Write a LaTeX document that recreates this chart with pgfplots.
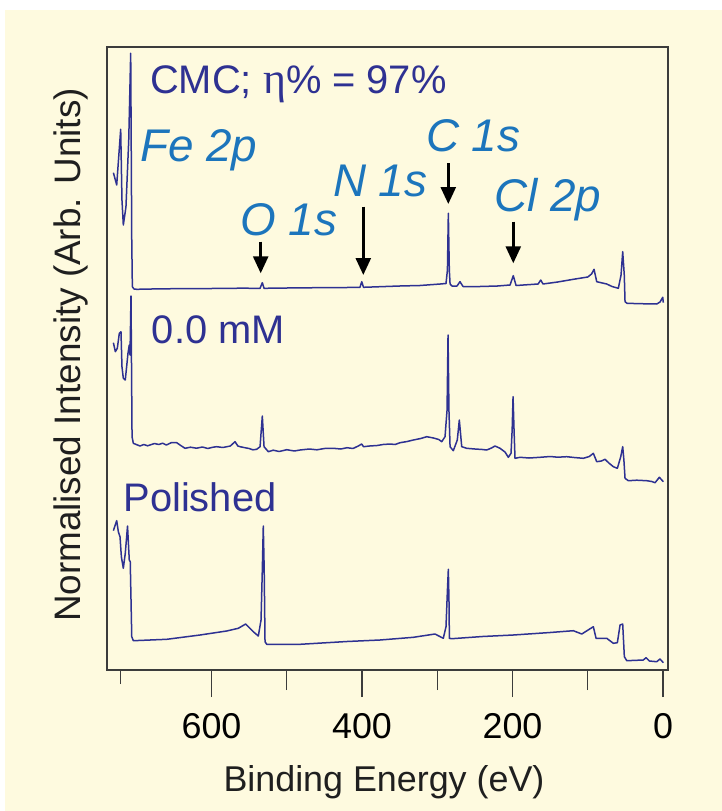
\documentclass[border=0pt]{standalone}
\usepackage{fontspec}
\setmainfont{Liberation Sans}
\newfontfamily\serifgreek{Liberation Serif}
\usepackage{pgfplots}
\pgfplotsset{compat=1.18}
\usetikzlibrary{arrows.meta}
\definecolor{cream}{HTML}{FEFADF}
\definecolor{navy}{HTML}{2E3192}
\definecolor{lblue}{HTML}{1C75BC}
\definecolor{axgray}{HTML}{3C3C3C}

\pgfplotstableread{
ev y
730.4 497.3
726.0 485.0
720.7 540.7
719.0 470.0
717.2 445.0
713.7 463.0
710.0 530.0
707.4 616.7
706.0 430.0
705.2 383.3
703.0 381.0
699.4 380.7
680 381.0
650 381.3
600 381.5
560 381.8
540 381.7
535.5 381.7
532.5 387.3
530.2 381.7
500 382.0
460 382.3
420 382.5
402.7 382.7
400.4 388.3
398.0 382.7
376 383.3
350 384
323 384.5
296 386
288.4 386.5
286.5 400
285.3 456.7
284 400
283 386
280.4 384
273.8 384
269.8 388.3
265.8 383.5
243.2 383.5
220 384
203.3 385
199.0 394.3
195.3 384.5
166 386
162.5 390
159.5 386
140 388
119.2 390.7
100 393
95 396
91.7 400.7
88.1 388.3
74.8 386
67.8 383.5
59.4 381.7
55.8 395
53.6 418.3
51.5 395
50.5 368.3
47.8 366.7
30 366.3
8.4 366
4 368
0.4 372.7
-0.4 367.3
}\cmc

\pgfplotstableread{
ev y
730.4 327.3
727.8 318.3
725.2 321.7
722.5 336.7
720.3 338.3
719.0 303.3
717.2 291.7
714.6 290
712.8 303.3
711.0 316.7
709.3 325
708.3 315
707.0 374
705.6 233.3
703.9 226.7
700 225.5
695 224.0
690 225.5
685 224.2
681.7 225
676 226.5
670 225.5
665 226.8
660 225
653 227.5
646.2 227.3
641.9 225
635.2 221.7
628 222.8
620 221.8
612 223.0
605 221.5
598 222.8
593.1 223.3
585 222.5
575 224
568.8 228.3
565 224
562.1 223.3
555 222.2
550 221.5
545 220.2
540 220.7
535.5 223.3
532.5 254
530.2 223.3
524.5 218.3
518 219.8
510 218.5
500 220.3
490 219.0
482.4 220
470 221.0
460 220.2
450 221.5
438.1 221.7
428 221.0
420 222.3
412 221.5
405 224
400.4 226
398 223.3
390 224.0
380 224.5
372 225.5
362.8 226
356 225.5
349.5 227.3
340 228.5
331.8 230
322 231.5
314 233.3
305 232
298 230.5
294.1 228.3
289.7 233.3
287 260
285.7 335
284.5 260
283 223.3
278.7 219.3
273.4 230
270.7 250
267.5 223.3
260.9 221.7
250 221.0
240 220.5
234.3 220
228 222.0
223.3 224
216.6 221.7
210 218.0
205.6 212.7
202 216.7
200.5 240
199.3 273.3
198 240
196.7 211.7
190 212.7
178 212.0
163.5 212.7
150 213.5
140 212.8
128 213.3
118 212.5
105.9 211.7
98 213.5
92.6 216.7
88.1 208.3
82 209.0
77.1 210.7
72 207.0
66 203.3
60.7 201.7
56.2 213.3
53.6 223.3
52 210
50.5 191.7
46.1 189.3
35 189.8
21.7 189.3
15 188.5
10.6 187.3
4.9 192.7
-0.4 188.3
}\zero

\pgfplotstableread{
ev y
730.4 139.3
726.0 149.3
723.8 138.3
721.6 133.3
719.8 113.3
717.2 101.7
714.6 116.7
711.6 144
709.3 110
708.0 108.3
706.0 33.3
703.9 29.3
659.5 30.7
615.3 35
580 39
564.4 41.7
554.6 46
544.5 38.3
537.8 34
534.2 50
532.5 100
531.2 144
530 100
528.9 28.3
526.6 25.7
482.4 25.7
420 28.5
376.1 30
331.8 32.7
303 36
292 31.7
288.4 43.3
286.5 80
285.3 100.7
284.2 60
284 31.7
280.8 31.3
240 33.5
199 35
150 37.5
119.2 39.3
108 36
92.6 43.3
89 31.7
74.8 31.7
66 26.7
60.7 27.3
57.1 45
53.6 46
51.4 13.3
48.2 9.3
26.2 10
22.6 12.3
18.2 9
8.4 8.3
4 11
-0.4 7.3
}\polished

\begin{document}
\begin{tikzpicture}
\useasboundingbox (0,0) rectangle (722bp,-811bp);
\fill[white] (0,0) rectangle (722bp,-811bp);
\fill[cream] (5bp,-10bp) rectangle (722bp,-811bp);
\begin{axis}[at={(107bp,-670bp)}, anchor=south west, scale only axis,
  width=561bp, height=623bp,
  x dir=reverse, xmin=-6.6, xmax=738.9, ymin=0, ymax=623,
  axis line style={draw=axgray, line width=1.3bp},
  xtick={0,200,400,600}, minor xtick={100,300,500}, ytick=\empty,
  xtick pos=left, tick align=outside,
  major tick length=27bp, minor tick length=20bp,
  tick style={draw=axgray, line width=1.3bp},
  extra x ticks={720.6}, extra x tick labels={{}},
  extra x tick style={major tick length=14bp},
  xticklabel style={font=\fontsize{36}{36}\selectfont, text=black, anchor=base, inner sep=0pt, yshift=-41bp},
  /pgf/number format/assume math mode=true,
  clip=false]
\addplot[navy, line width=1.5bp, line join=round] table[x=ev, y=y] {\cmc};
\addplot[navy, line width=1.5bp, line join=round] table[x=ev, y=y] {\zero};
\addplot[navy, line width=1.5bp, line join=round] table[x=ev, y=y] {\polished};
\end{axis}
\begin{scope}[x=1bp, y=-1bp]
\node[anchor=base, inner sep=0pt, font=\fontsize{36}{36}\selectfont, text=black!88] at (384,791) {Binding Energy (eV)};
\node[anchor=base, rotate=90, inner sep=0pt, font=\fontsize{37}{37}\selectfont, text=black!88] at (80,355) {Normalised Intensity (Arb. Units)};
\node[anchor=base west, inner sep=0pt, text=navy, font=\fontsize{40}{40}\selectfont] at (150,93.3) {CMC; {\serifgreek\fontsize{44}{44}\selectfont η}\% = 97\%};
\node[anchor=base west, inner sep=0pt, text=navy, font=\fontsize{40}{40}\selectfont] at (151.7,343.3) {0.0 mM};
\node[anchor=base west, inner sep=0pt, text=navy, font=\fontsize{40}{40}\selectfont] at (123.3,511) {Polished};
\begin{scope}[every node/.style={anchor=base west, inner sep=0pt, text=lblue, font=\fontsize{46}{46}\selectfont\itshape}]
\node at (140,161.7) {Fe 2p};
\node at (240,235) {O 1s};
\node at (333,196.7) {N 1s};
\node at (426,151.7) {C 1s};
\node at (494,211.7) {Cl 2p};
\end{scope}
\begin{scope}[black, line width=2.6bp, -{Triangle[width=15bp,length=17bp]}]
\draw (260.7,241.7) -- (260.7,273.3);
\draw (363.3,206.7) -- (363.3,275);
\draw (448.3,163.3) -- (448.3,204);
\draw (513.3,221.7) -- (513.3,263.3);
\end{scope}
\end{scope}
\end{tikzpicture}
\end{document}
